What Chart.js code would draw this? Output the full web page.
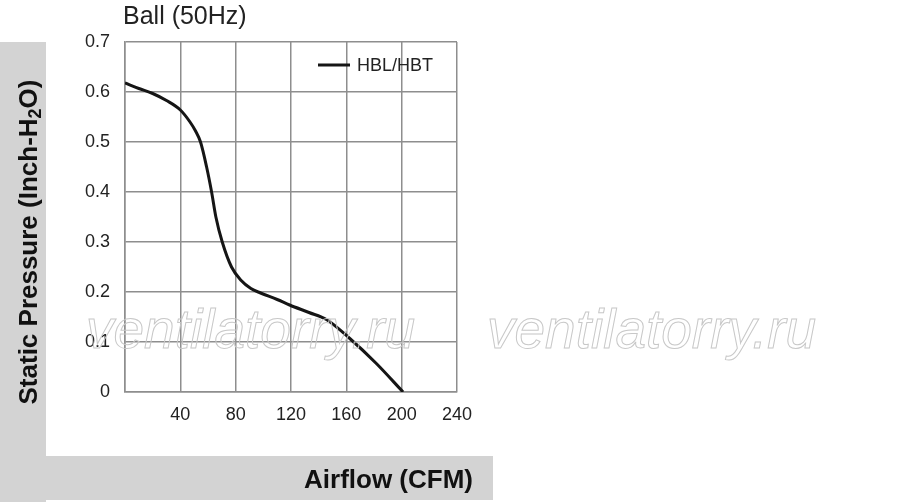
<!DOCTYPE html>
<html>
<head>
<meta charset="utf-8">
<script src="https://cdn.jsdelivr.net/npm/chart.js@4"></script>
<style>
  html, body { margin: 0; padding: 0; background: #fff; }
  #wrap { width: 900px; height: 502px; }
</style>
</head>
<body>
<div id="wrap"><canvas id="fanCurve"></canvas></div>
<script>
// airflow (CFM) and static pressure (inch H2O)
const airflow  = [0, 10, 20, 30, 40, 47, 51, 54.6, 59, 62.6, 65.7, 70.3, 77, 84, 91, 98, 110, 119, 133, 145.6, 162.5, 181.7, 201];
const pressure = [0.618, 0.607, 0.597, 0.583, 0.564, 0.54, 0.522, 0.50, 0.45, 0.40, 0.35, 0.30, 0.25, 0.223, 0.207, 0.198, 0.185, 0.174, 0.159, 0.145, 0.107, 0.057, 0.0];
const xTicks = [0, 40, 80, 120, 160, 200, 240];
const yTicks = [0, 0.1, 0.2, 0.3, 0.4, 0.5, 0.6, 0.7];
const seriesName = 'HBL/HBT';
const chartTitle = 'Ball (50Hz)';
const xTitle = 'Airflow (CFM)';
const yTitleParts = ['Static Pressure (Inch-H', '2', 'O)'];
const watermark = 'ventilatorry.ru';

const FONT = '"Liberation Sans", Arial, sans-serif';
const GRID = '#8e8e8e';

const decor = {
  id: 'decor',
  beforeDraw(chart) {
    const ctx = chart.ctx;
    ctx.save();
    ctx.fillStyle = '#d3d3d3';
    ctx.fillRect(0, 42, 46, 460);
    ctx.fillRect(0, 456, 493, 44);
    ctx.restore();
  },
  afterDraw(chart) {
    const ctx = chart.ctx;
    const area = chart.chartArea;
    ctx.save();
    // title
    ctx.fillStyle = '#222';
    ctx.font = '25px ' + FONT;
    ctx.textBaseline = 'alphabetic';
    ctx.textAlign = 'left';
    ctx.fillText(chartTitle, 123, 24);

    // legend, top right inside the plot
    const ds = chart.data.datasets[0];
    ctx.strokeStyle = ds.borderColor;
    ctx.lineWidth = ds.borderWidth;
    ctx.beginPath();
    ctx.moveTo(area.right - 139, area.top + 23);
    ctx.lineTo(area.right - 107, area.top + 23);
    ctx.stroke();
    ctx.font = '18px ' + FONT;
    ctx.textBaseline = 'middle';
    ctx.fillText(ds.label, area.right - 100, area.top + 24);

    // x axis title
    ctx.textBaseline = 'alphabetic';
    ctx.font = 'bold 26px ' + FONT;
    ctx.textAlign = 'right';
    ctx.fillStyle = '#111';
    ctx.fillText(xTitle, 473, 488);

    // y axis title with subscript
    ctx.translate(37, 242);
    ctx.rotate(-Math.PI / 2);
    const big = 'bold 26px ' + FONT, small = 'bold 18px ' + FONT;
    ctx.font = big;
    const w1 = ctx.measureText(yTitleParts[0]).width;
    const w3 = ctx.measureText(yTitleParts[2]).width;
    ctx.font = small;
    const w2 = ctx.measureText(yTitleParts[1]).width;
    let x0 = -(w1 + w2 + w3) / 2;
    ctx.textAlign = 'left';
    ctx.font = big;
    ctx.fillText(yTitleParts[0], x0, 0);
    ctx.font = small;
    ctx.fillText(yTitleParts[1], x0 + w1, 4);
    ctx.font = big;
    ctx.fillText(yTitleParts[2], x0 + w1 + w2, 0);
    ctx.restore();

    // outlined watermark
    ctx.save();
    ctx.font = 'italic 55px ' + FONT;
    ctx.strokeStyle = '#c8c8c8';
    ctx.lineWidth = 1;
    ctx.textAlign = 'left';
    ctx.strokeText(watermark, 86, 348);
    ctx.strokeText(watermark, 487, 348);
    ctx.restore();
  }
};

new Chart(document.getElementById('fanCurve'), {
  type: 'line',
  data: {
    datasets: [{
      label: seriesName,
      data: airflow.map((a, i) => ({ x: a, y: pressure[i] })),
      borderColor: '#151515',
      backgroundColor: '#151515',
      borderWidth: 3,
      pointRadius: 0,
      fill: false,
      cubicInterpolationMode: 'monotone'
    }]
  },
  options: {
    responsive: true,
    maintainAspectRatio: false,
    animation: false,
    layout: { padding: { left: 0, top: 42, right: 443, bottom: 0 } },
    plugins: {
      title: { display: false },
      tooltip: { enabled: false },
      legend: { display: false }
    },
    scales: {
      x: {
        type: 'linear',
        min: 0, max: 240,
        afterBuildTicks: s => { s.ticks = xTicks.map(v => ({ value: v })); },
        afterFit: s => { s.height = 110; },
        grid: { color: GRID, lineWidth: 1.5, drawTicks: false },
        border: { color: GRID, width: 1.5 },
        ticks: {
          padding: 12,
          color: '#222',
          font: { family: FONT, size: 18 },
          maxRotation: 0,
          callback: v => v === 0 ? '' : v
        }
      },
      y: {
        min: 0, max: 0.7,
        afterBuildTicks: s => { s.ticks = yTicks.map(v => ({ value: v })); },
        afterFit: s => { s.width = 125; },
        grid: { color: GRID, lineWidth: 1.5, drawTicks: false },
        border: { color: GRID, width: 1.5 },
        ticks: {
          padding: 15,
          color: '#222',
          font: { family: FONT, size: 18 },
          callback: v => String(v)
        }
      }
    }
  },
  plugins: [decor]
});
</script>
</body>
</html>
